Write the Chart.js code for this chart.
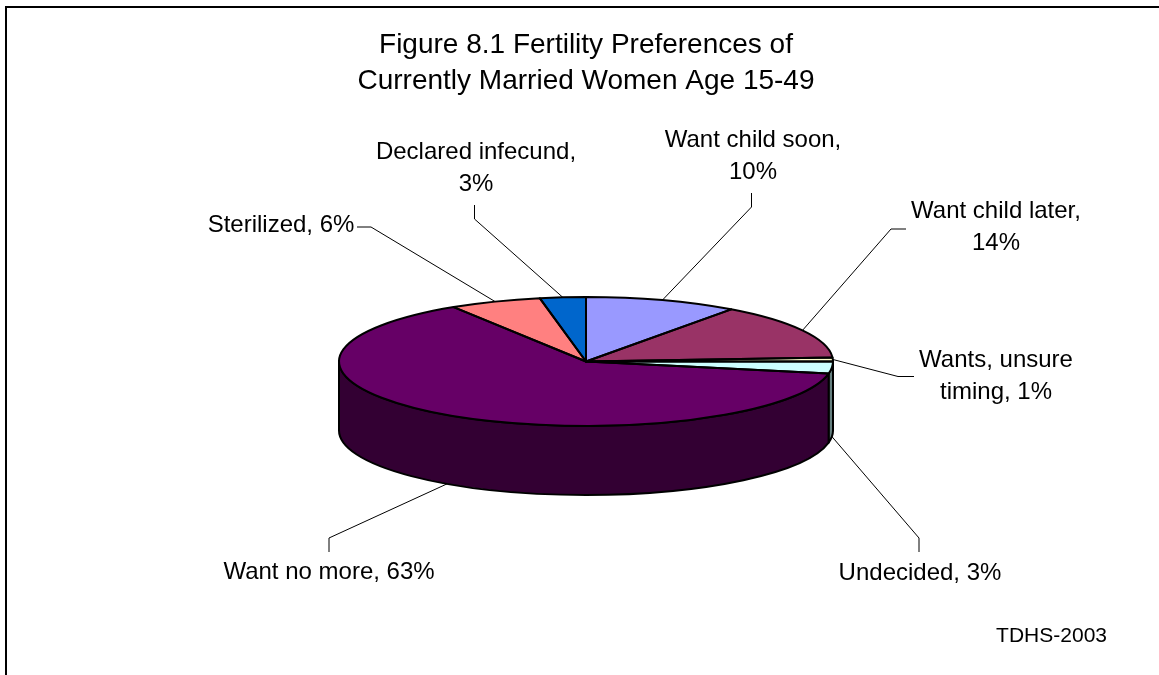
<!DOCTYPE html>
<html>
<head>
<meta charset="utf-8">
<title>Figure 8.1</title>
<script src="https://cdn.jsdelivr.net/npm/chart.js@4"></script>
<style>
  html, body { margin: 0; padding: 0; background: #fff; overflow: hidden; }
  #frame { position: absolute; left: 5px; top: 6px; right: 0; bottom: 0;
           border-left: 2px solid #000; border-top: 2px solid #000; }
  #graph { position: absolute; left: 0; top: 0; }
</style>
</head>
<body>
<div id="frame"></div>
<canvas id="graph" width="1159" height="675"></canvas>
<script>
var titleLines = ["Figure 8.1 Fertility Preferences of", "Currently Married Women Age 15-49"];
var sourceNote = "TDHS-2003";

var categories = ["Want child soon", "Want child later", "Wants, unsure timing", "Undecided",
                  "Want no more", "Sterilized", "Declared infecund"];
var shares = [10, 14, 1, 3, 63, 6, 3];
var topColors  = ["#9999ff", "#993366", "#ffffcc", "#ccffff", "#660066", "#ff8080", "#0066cc"];
var sideColors = ["#4d4d80", "#4d1a33", "#808066", "#668080", "#330033", "#804040", "#003366"];

var labelLines = [
    ["Want child soon,", "10%"],
    ["Want child later,", "14%"],
    ["Wants, unsure", "timing, 1%"],
    ["Undecided, 3%"],
    ["Want no more, 63%"],
    ["Sterilized, 6%"],
    ["Declared infecund,", "3%"]
];

// Where each callout sits: text centre, first baseline, then the fixed part of its leader.
var callouts = [
    { x: 753, y: 147, leader: [[751.5, 193], [751.5, 207]] },
    { x: 996, y: 218, leader: [[906, 229], [891, 229]] },
    { x: 996, y: 367, leader: [[914, 376.5], [898, 376.5]] },
    { x: 920, y: 580, leader: [[919, 552], [919, 538]], wall: true },
    { x: 329, y: 579, leader: [[329, 552], [329, 538]], wall: true },
    { x: 281, y: 232, leader: [[357, 227], [371, 227]] },
    { x: 476, y: 159, leader: [[474.5, 205], [474.5, 219]] }
];

var TILT = 0.261;       // squash of the pie top
var DEPTH = 69;         // height of the wall in px
var FONT = '"Liberation Sans", Arial, sans-serif';

var tiltedPie = {
    id: "tiltedPie",
    beforeDatasetsDraw: function (chart) {
        var ctx = chart.ctx;
        var arcs = chart.getDatasetMeta(0).data;

        // wall, only the part of each slice facing us
        arcs.forEach(function (arc, i) {
            var from = Math.max(arc.startAngle, 0);
            var to = Math.min(arc.endAngle, Math.PI);
            if (to <= from) return;
            var ry = arc.outerRadius * TILT;
            ctx.beginPath();
            ctx.ellipse(arc.x, arc.y, arc.outerRadius, ry, 0, from, to);
            ctx.ellipse(arc.x, arc.y + DEPTH, arc.outerRadius, ry, 0, to, from, true);
            ctx.closePath();
            ctx.fillStyle = sideColors[i];
            ctx.fill();
            ctx.lineWidth = 2;
            ctx.strokeStyle = "#000";
            ctx.lineJoin = "round";
            ctx.stroke();
        });

        var c = arcs[0];
        ctx.save();
        ctx.translate(c.x, c.y);
        ctx.scale(1, TILT);
        ctx.translate(-c.x, -c.y);
    },
    afterDatasetsDraw: function (chart) {
        var ctx = chart.ctx;
        var arcs = chart.getDatasetMeta(0).data;
        ctx.restore();

        // slice outlines in screen space so the pen is not squashed with the pie
        arcs.forEach(function (arc) {
            ctx.beginPath();
            ctx.moveTo(arc.x, arc.y);
            ctx.ellipse(arc.x, arc.y, arc.outerRadius, arc.outerRadius * TILT, 0, arc.startAngle, arc.endAngle);
            ctx.closePath();
            ctx.lineWidth = 2;
            ctx.strokeStyle = "#000";
            ctx.lineJoin = "round";
            ctx.stroke();
        });

        // leaders and labels
        ctx.font = "24px " + FONT;
        ctx.textAlign = "center";
        ctx.textBaseline = "alphabetic";
        arcs.forEach(function (arc, i) {
            var spot = callouts[i];
            var mid = (arc.startAngle + arc.endAngle) / 2;
            var ex = arc.x + arc.outerRadius * Math.cos(mid);
            var ey = arc.y + arc.outerRadius * TILT * Math.sin(mid) + (spot.wall ? DEPTH : 0);
            ctx.beginPath();
            ctx.moveTo(spot.leader[0][0], spot.leader[0][1]);
            ctx.lineTo(spot.leader[1][0], spot.leader[1][1]);
            ctx.lineTo(ex, ey);
            ctx.lineWidth = 1;
            ctx.strokeStyle = "#000";
            ctx.stroke();

            ctx.fillStyle = "#000";
            labelLines[i].forEach(function (line, n) {
                ctx.fillText(line, spot.x, spot.y + n * 32);
            });
        });

        ctx.font = "21px " + FONT;
        ctx.textAlign = "right";
        ctx.fillText(sourceNote, 1107, 642);
    }
};

new Chart(document.getElementById("graph"), {
    type: "pie",
    data: {
        labels: categories,
        datasets: [{
            data: shares,
            backgroundColor: topColors,
            borderWidth: 0,
            radius: 247
        }]
    },
    options: {
        responsive: false,
        animation: false,
        layout: { padding: { left: 13, right: 0, top: 0, bottom: 61 } },
        plugins: {
            legend: { display: false },
            tooltip: { enabled: false },
            title: {
                display: true,
                text: titleLines,
                color: "#000",
                font: { family: FONT, size: 28, weight: "normal", lineHeight: 1.286 },
                padding: { top: 27.5, bottom: 9.5 }
            }
        }
    },
    plugins: [tiltedPie]
});
</script>
</body>
</html>
